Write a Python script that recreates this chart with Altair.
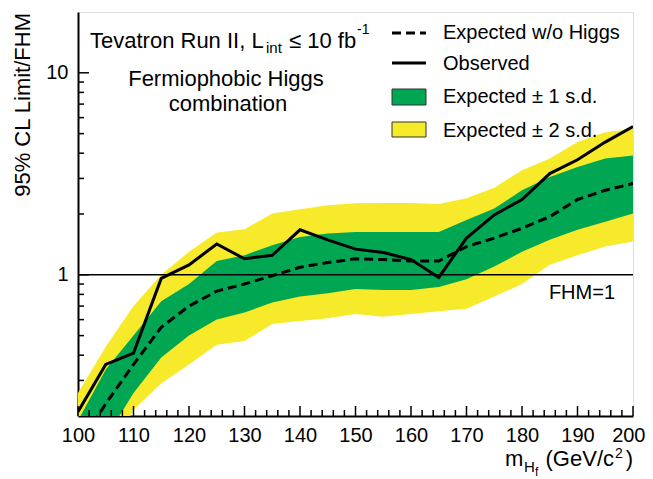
import altair as alt
import pandas as pd

# ---- data ----
mass = [100, 105, 110, 115, 120, 125, 130, 135, 140, 145, 150,
        155, 160, 165, 170, 175, 180, 185, 190, 195, 200]
observed = [0.21, 0.36, 0.41, 0.96, 1.12, 1.42, 1.20, 1.25, 1.67, 1.49, 1.34,
            1.29, 1.19, 0.97, 1.52, 1.98, 2.36, 3.17, 3.71, 4.54, 5.42]
expected = [0.14, 0.23, 0.36, 0.55, 0.70, 0.83, 0.90, 0.99, 1.09, 1.15, 1.20,
            1.19, 1.17, 1.17, 1.38, 1.52, 1.70, 1.94, 2.36, 2.62, 2.83]
minus1 = [0.10, 0.155, 0.26, 0.39, 0.50, 0.60, 0.65, 0.73, 0.78, 0.81, 0.85,
          0.84, 0.84, 0.87, 0.95, 1.10, 1.30, 1.49, 1.67, 1.83, 2.01]
plus1 = [0.19, 0.34, 0.50, 0.74, 0.90, 1.17, 1.25, 1.40, 1.54, 1.60, 1.63,
         1.63, 1.63, 1.63, 1.87, 2.13, 2.62, 3.05, 3.42, 3.76, 3.90]
minus2 = [0.07, 0.12, 0.215, 0.29, 0.36, 0.45, 0.47, 0.57, 0.59, 0.61, 0.64,
          0.62, 0.64, 0.66, 0.68, 0.78, 0.90, 1.12, 1.25, 1.38, 1.46]
plus2 = [0.26, 0.44, 0.70, 1.00, 1.30, 1.62, 1.68, 2.01, 2.11, 2.21, 2.26,
         2.27, 2.27, 2.24, 2.39, 2.70, 3.29, 3.76, 4.54, 5.08, 5.28]

x_major = [100, 110, 120, 130, 140, 150, 160, 170, 180, 190, 200]
x_minor = [m for m in range(102, 200, 2) if m % 10 != 0]
y_labels = [1, 10]
y_major = [1, 10]
y_minor = [0.3, 0.4, 0.5, 0.6, 0.7, 0.8, 0.9, 2, 3, 4, 5, 6, 7, 8, 9]
fhm_level = [1]

legend_labels = ["Expected w/o Higgs", "Observed",
                 "Expected \u00b1 1 s.d.", "Expected \u00b1 2 s.d."]

df = pd.DataFrame(dict(mass=mass, obs=observed, exp=expected,
                       m1=minus1, p1=plus1, m2=minus2, p2=plus2))

W, H = 555, 404
FONT = "Liberation Sans"
YELLOW = "#f7ea2a"
GREEN = "#00a651"

xs = alt.Scale(domain=[100, 200], nice=False, zero=False)
ys = alt.Scale(type="log", domain=[0.2, 20], nice=False)

XAX = alt.Axis(values=x_major, title=None, ticks=False, tickSize=0,
               labelFontSize=20, labelPadding=9, labelColor="black",
               labelFont=FONT, labelFlush=False, labelOverlap=False,
               labelAlign={"expr": "datum.value == 200 ? 'right' : 'center'"},
               labelOffset={"expr": "datum.value == 200 ? 12 : 0"},
               grid=False, domainColor="black", domainWidth=2, format="d")
YAX = alt.Axis(values=y_labels, title=None, ticks=False, tickSize=0,
               labelFontSize=20, labelPadding=10, labelColor="black",
               labelFont=FONT, grid=False, domainColor="black",
               domainWidth=2, format="~g", labelOverlap=False)


def X(field):
    return alt.X(field, scale=xs, axis=XAX)


def Y(field):
    return alt.Y(field, scale=ys, axis=YAX)


base = alt.Chart(df)

yellow = base.mark_area(color=YELLOW, clip=True).encode(
    x=X("mass:Q"), y=Y("m2:Q"), y2="p2:Q")
green = base.mark_area(color=GREEN, clip=True).encode(
    x=X("mass:Q"), y=Y("m1:Q"), y2="p1:Q")
fhm = alt.Chart(pd.DataFrame({"mass": [100], "v": fhm_level})).mark_rule(
    color="black", strokeWidth=1.5).encode(
    y=Y("v:Q"), x=alt.value(0), x2=alt.value(W))
exp_line = base.mark_line(color="black", strokeWidth=3, strokeDash=[9, 5],
                          clip=True).encode(x=X("mass:Q"), y=Y("exp:Q"))
obs_line = base.mark_line(color="black", strokeWidth=3, clip=True).encode(
    x=X("mass:Q"), y=Y("obs:Q"))

# inward ticks
xmaj = alt.Chart(pd.DataFrame({"mass": x_major})).mark_rule(
    color="black", strokeWidth=1.5).encode(
    x=X("mass:Q"), y=alt.value(H), y2=alt.value(H - 10))
xmin = alt.Chart(pd.DataFrame({"mass": x_minor})).mark_rule(
    color="black", strokeWidth=1.5).encode(
    x=X("mass:Q"), y=alt.value(H), y2=alt.value(H - 6))
ymaj = alt.Chart(pd.DataFrame({"v": y_major})).mark_rule(
    color="black", strokeWidth=1.5).encode(
    y=Y("v:Q"), x=alt.value(0), x2=alt.value(11))
ymin = alt.Chart(pd.DataFrame({"v": y_minor})).mark_rule(
    color="black", strokeWidth=1.5).encode(
    y=Y("v:Q"), x=alt.value(0), x2=alt.value(6))

one = pd.DataFrame({"a": [0]})


def txt(s, x, y, size, align="left", baseline="alphabetic", angle=0):
    return alt.Chart(one).mark_text(
        align=align, baseline=baseline, fontSize=size, font=FONT,
        color="black", angle=angle).encode(
        x=alt.value(x), y=alt.value(y), text=alt.value(s))


texts = [
    txt("Tevatron Run II, L", 12, 36, 22),
    txt("int", 188, 41, 15),
    txt("\u2264 10 fb", 211, 36, 22),
    txt("-1", 279, 22, 14),
    txt("Fermiophobic Higgs", 148, 74, 22, align="center"),
    txt("combination", 150, 99, 22, align="center"),
    txt("FHM=1", 537, 287, 20, align="right"),
    # legend texts
    txt(legend_labels[0], 365, 27, 20),
    txt(legend_labels[1], 365, 58, 20),
    txt(legend_labels[2], 365, 91, 20),
    txt(legend_labels[3], 365, 125, 20),
    # axis titles
    txt("95% CL Limit/FHM", -55, 1, 22, align="right", baseline="middle",
        angle=270),
    txt("m", 427, 454, 22),
    txt("H", 446, 460, 15),
    txt("f", 457, 464, 12),
    txt("(GeV/c", 536, 454, 22, align="right"),
    txt("2", 537, 446, 14),
    txt(")", 555, 454, 22, align="right"),
]

leg_dash = alt.Chart(one).mark_rule(color="black", strokeWidth=3,
                                    strokeDash=[9, 5]).encode(
    x=alt.value(314), x2=alt.value(348), y=alt.value(21))
leg_solid = alt.Chart(one).mark_rule(color="black", strokeWidth=3).encode(
    x=alt.value(314), x2=alt.value(348), y=alt.value(51))
leg_green = alt.Chart(one).mark_rect(color=GREEN, stroke="#333333",
                                     strokeWidth=1).encode(
    x=alt.value(314), x2=alt.value(348), y=alt.value(77), y2=alt.value(93))
leg_yellow = alt.Chart(one).mark_rect(color=YELLOW, stroke="#333333",
                                      strokeWidth=1).encode(
    x=alt.value(314), x2=alt.value(348), y=alt.value(110), y2=alt.value(125))

chart = alt.layer(
    yellow, green, fhm, exp_line, obs_line, xmaj, xmin, ymaj, ymin,
    leg_dash, leg_solid, leg_green, leg_yellow, *texts
).properties(
    width=W, height=H,
    padding={"left": 70, "top": 4, "right": 12, "bottom": 63},
    autosize=alt.AutoSizeParams(type="none"),
).configure_view(
    stroke="black", strokeWidth=2
).configure(
    background="white"
)

chart.save("out.html", embed_options={"renderer": "svg", "actions": False})
